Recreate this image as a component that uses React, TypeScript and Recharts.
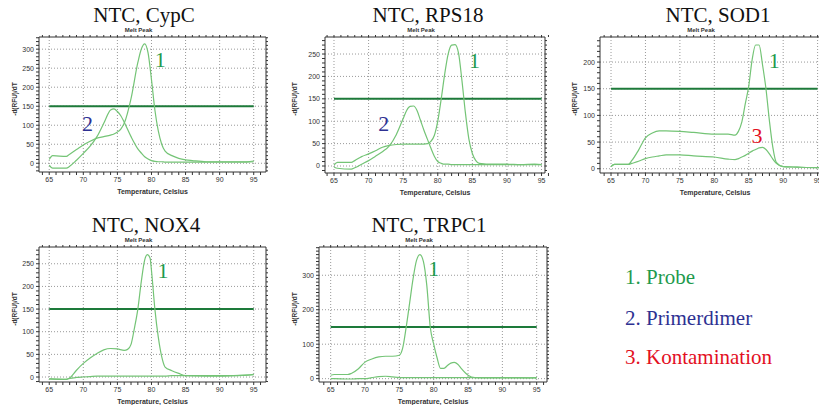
import React from 'react';
import {
  LineChart,
  Line,
  XAxis,
  YAxis,
  CartesianGrid,
  ReferenceLine,
  ReferenceDot
} from 'recharts';

// CypC
const cypcTemps = [65, 65.5, 67.5, 68, 69, 70, 71, 72, 73, 74, 74.5, 75, 75.5, 76, 77, 78, 78.5, 79, 79.5, 80, 80.5, 81, 81.5, 82, 83, 84, 85, 86, 88, 90, 92, 94, 95];
const cypcProbe = [10, 20, 18, 24, 36, 48, 58, 66, 70, 74, 77, 82, 90, 105, 170, 265, 300, 314, 290, 220, 140, 85, 50, 32, 20, 13, 9, 7, 4, 4, 4, 4, 6];
const cypcDimer = [-5, -13, -13, -8, 8, 26, 45, 70, 105, 140, 143, 136, 125, 108, 70, 38, 27, 17, 11, 7, 5, 4, 4, 3, 3, 3, 3, 3, 3, 3, 3, 3, 4];

// RPS18
const rpsTemps = [65, 65.5, 67.5, 68, 69, 70, 71, 72, 73, 74, 75, 75.5, 76, 76.5, 77, 77.5, 78, 78.5, 79, 79.5, 80, 80.5, 81, 81.5, 82, 82.5, 83, 83.5, 84, 84.5, 85, 85.5, 86, 88, 90, 92, 94, 95];
const rpsProbe = [2, 8, 8, 12, 21, 27, 34, 42, 46, 48, 49, 49, 49, 49, 49, 49, 49, 50, 55, 68, 100, 150, 205, 250, 270, 271, 252, 190, 118, 60, 28, 12, 6, 4, 4, 3, 4, 3];
const rpsDimer = [-2, -5, -7, -4, 4, 12, 22, 32, 45, 70, 106, 124, 133, 134, 124, 102, 80, 60, 40, 22, 10, 6, 4, 4, 3, 3, 3, 3, 3, 3, 3, 3, 3, 3, 3, 3, 3, 3];

// SOD1
const sodTemps = [65, 65.5, 67.5, 68, 69, 70, 71, 72, 73, 75, 77, 80, 82, 83, 83.5, 84, 84.5, 85, 85.5, 86, 86.5, 87, 87.5, 88, 88.5, 89, 90, 92, 95, 96];
const sodProbe = [4, 8, 8, 15, 35, 58, 67, 71, 71, 70, 68, 65, 65, 63, 70, 88, 122, 155, 205, 232, 232, 195, 150, 90, 40, 12, 4, 3, 2, 2];
const sodContam = [4, 8, 8, 10, 14, 19, 22, 24, 26, 26, 24, 22, 18, 17, 19, 22, 25, 29, 33, 36, 39, 40, 36, 28, 18, 10, 4, 3, 2, 2];

// NOX4
const noxTemps = [65, 67.5, 68, 69, 70, 71, 72, 73, 74, 75, 76, 76.5, 77, 77.5, 78, 78.5, 79, 79.4, 79.8, 80, 80.5, 81, 81.5, 82, 83, 84, 85, 88, 90, 92, 94, 95];
const noxProbe = [-4, -5, -2, 15, 30, 42, 52, 60, 63, 62, 59, 61, 72, 108, 150, 210, 258, 270, 262, 235, 150, 88, 45, 22, 14, 8, 3, 2, 2, 3, 4, 6];
const noxBase = [-4, -5, -3, -1, 0, 1, 2, 2, 2, 2, 2, 2, 2, 2, 2, 2, 2, 2, 2, 2, 2, 2, 2, 2, 3, 3, 3, 3, 3, 3, 4, 5];

// TRPC1
const trpTemps = [65, 65.5, 67.5, 68, 69, 70, 71, 72, 73, 74, 75, 75.5, 76, 76.5, 77, 77.5, 78, 78.5, 79, 79.5, 80, 80.5, 81, 81.5, 82, 82.5, 83, 83.5, 84, 85, 86, 88, 90, 92, 95];
const trpProbe = [10, 12, 12, 15, 28, 48, 57, 63, 65, 65, 68, 90, 150, 220, 290, 343, 360, 340, 270, 150, 100, 60, 30, 30, 38, 45, 47, 42, 30, 10, 3, 2, 2, 2, 3];
const trpBase = [0, 0, -1, -1, 0, 0, 3, 6, 7, 5, 3, 3, 3, 3, 3, 3, 3, 3, 3, 3, 3, 3, 3, 3, 3, 3, 3, 3, 3, 3, 3, 3, 3, 3, 2];

const xTicks = [65, 70, 75, 80, 85, 90, 95];
const threshold = 150;
const thresholdRange = [65, 95];

const legendItems = [
  { text: '1. Probe', color: '#1f9a4e' },
  { text: '2. Primerdimer', color: '#2e3192' },
  { text: '3. Kontamination', color: '#e3101f' }
];

const NOTE_COLORS: Record<string, string> = { '1': '#1f9a4e', '2': '#2e3192', '3': '#e3101f' };

const range = (a: number, b: number, step: number) => {
  const out: number[] = [];
  for (let v = a; v <= b + 1e-9; v += step) out.push(Math.round(v * 100) / 100);
  return out;
};

const CURVE = '#74c476';
const SERIF = 'Liberation Serif';
const SANS = 'Liberation Sans';

interface Note { x: number; y: number; text: string }

interface MeltProps {
  left: number;
  top: number;
  title: string;
  titleX: number;
  titleY: number;
  temps: number[];
  a: number[];
  b: number[];
  xDomain: [number, number];
  yDomain: [number, number];
  yTicks: number[];
  box: [number, number, number, number]; // plot box: left, right, top, bottom (local px)
  notes: Note[];
}

const W = 280;
const H = 205;

// tick that only writes a label for the major values
const makeTick = (labels: number[], side: 'bottom' | 'left') => (p: any) => {
  const v = p.payload.value;
  if (!labels.includes(v)) return <g />;
  return (
    <text
      x={p.x}
      y={p.y}
      dy={side === 'bottom' ? '0.71em' : '0.355em'}
      textAnchor={side === 'bottom' ? 'middle' : 'end'}
      fontSize={7}
      fill="#333"
      fontFamily={SANS}
    >
      {v}
    </text>
  );
};

const MeltChart: React.FC<MeltProps> = ({ left, top, title, titleX, titleY, temps, a, b, xDomain, yDomain, yTicks, box, notes }) => {
  const data = temps.map((t, i) => ({ t, a: a[i], b: b[i] }));
  const [x0, x1, y0, y1] = box;
  // axes are 1px thick, so margins are the box minus that
  const margin = { left: x0 - 1, right: W - x1 - 1, top: y0 - 1, bottom: H - y1 - 1 };
  const boxMidX = (x0 + x1) / 2;
  const minorX = range(64, 96, 1);
  const minorY = range(Math.ceil(yDomain[0] / 10) * 10, yDomain[1], 10);
  const axisStroke = '#333';
  const empty = () => <g />;

  return (
    <div style={{ position: 'absolute', left, top, width: W, height: H }}>
      <div style={{ position: 'absolute', left: titleX, top: titleY, transform: 'translate(-50%, -50%)', fontFamily: SERIF, fontSize: 21, whiteSpace: 'nowrap', color: '#111' }}>
        {title}
      </div>
      <div style={{ position: 'absolute', left: boxMidX - 14, top: y0 - 7, transform: 'translate(-50%, -50%)', fontFamily: SANS, fontSize: 6, fontWeight: 700, color: '#333', whiteSpace: 'nowrap' }}>
        Melt Peak
      </div>
      <div style={{ position: 'absolute', left: boxMidX, top: y1 + 19, transform: 'translate(-50%, -50%)', fontFamily: SANS, fontSize: 7, fontWeight: 700, color: '#333', whiteSpace: 'nowrap' }}>
        Temperature, Celsius
      </div>
      <div style={{ position: 'absolute', left: 14, top: (y0 + y1) / 2 - 6, transform: 'translate(-50%, -50%) rotate(-90deg)', fontFamily: SANS, fontSize: 6.5, fontWeight: 700, color: '#333', whiteSpace: 'nowrap' }}>
        -d(RFU)/dT
      </div>
      <div style={{ position: 'absolute', left: 0, top: 0 }}>
        <LineChart width={W} height={H} data={data} margin={margin}>
          <CartesianGrid
            stroke="#999"
            strokeDasharray="1 2"
            xAxisId="main"
            yAxisId="main"
            verticalValues={xTicks}
            horizontalValues={yTicks}
          />
          <XAxis
            xAxisId="main"
            dataKey="t"
            type="number"
            domain={xDomain}
            ticks={minorX}
            interval={0}
            allowDataOverflow
            height={1}
            tickSize={3}
            tickMargin={2}
            tick={makeTick(xTicks, 'bottom')}
            axisLine={{ stroke: axisStroke }}
            tickLine={{ stroke: axisStroke }}
          />
          <XAxis
            xAxisId="minor"
            orientation="top"
            dataKey="t"
            type="number"
            domain={xDomain}
            ticks={minorX}
            interval={0}
            allowDataOverflow
            height={1}
            tickSize={2}
            tick={empty}
            axisLine={{ stroke: axisStroke }}
            tickLine={{ stroke: axisStroke }}
          />
          <YAxis
            yAxisId="main"
            type="number"
            domain={yDomain}
            ticks={minorY}
            interval={0}
            allowDataOverflow
            width={1}
            tickSize={3}
            tickMargin={2}
            tick={makeTick(yTicks, 'left')}
            axisLine={{ stroke: axisStroke }}
            tickLine={{ stroke: axisStroke }}
          />
          <YAxis
            yAxisId="minor"
            orientation="right"
            type="number"
            domain={yDomain}
            ticks={minorY}
            interval={0}
            allowDataOverflow
            width={1}
            tickSize={2}
            tick={empty}
            axisLine={{ stroke: axisStroke }}
            tickLine={{ stroke: axisStroke }}
          />
          <ReferenceLine
            xAxisId="main"
            yAxisId="main"
            segment={[{ x: thresholdRange[0], y: threshold }, { x: thresholdRange[1], y: threshold }]}
            stroke="#1d7a3a"
            strokeWidth={2}
          />
          <Line xAxisId="main" yAxisId="main" type="monotone" dataKey="b" stroke={CURVE} strokeWidth={1.2} dot={false} isAnimationActive={false} />
          <Line xAxisId="main" yAxisId="main" type="monotone" dataKey="a" stroke={CURVE} strokeWidth={1.2} dot={false} isAnimationActive={false} />
          {notes.map((n, i) => (
            <ReferenceDot
              key={i}
              xAxisId="main"
              yAxisId="main"
              x={n.x}
              y={n.y}
              r={0}
              fill="none"
              stroke="none"
              label={{ value: n.text, position: 'center', fill: NOTE_COLORS[n.text], fontSize: 22, fontFamily: SERIF }}
            />
          ))}
        </LineChart>
      </div>
    </div>
  );
};

export default function App() {
  return (
    <div style={{ position: 'absolute', left: 0, top: 0, width: 819, height: 405, overflow: 'hidden', background: '#fff' }}>
      <MeltChart
        left={0} top={0} title="NTC, CypC" titleX={144} titleY={15}
        temps={cypcTemps} a={cypcProbe} b={cypcDimer}
        xDomain={[63.5, 96.8]} yDomain={[-23, 332]} yTicks={[0, 50, 100, 150, 200, 250, 300]}
        box={[39, 266, 37, 172]}
        notes={[{ x: 81.3, y: 273, text: '1' }, { x: 70.6, y: 106, text: '2' }]}
      />
      <MeltChart
        left={280} top={0} title="NTC, RPS18" titleX={148} titleY={15}
        temps={rpsTemps} a={rpsProbe} b={rpsDimer}
        xDomain={[63.7, 95.5]} yDomain={[-15.6, 288]} yTicks={[0, 50, 100, 150, 200, 250]}
        box={[45, 265, 37, 173]}
        notes={[{ x: 85.3, y: 237, text: '1' }, { x: 72.2, y: 95, text: '2' }]}
      />
      <MeltChart
        left={560} top={0} title="NTC, SOD1" titleX={158} titleY={15}
        temps={sodTemps} a={sodProbe} b={sodContam}
        xDomain={[63.4, 96.8]} yDomain={[-8, 247]} yTicks={[0, 50, 100, 150, 200]}
        box={[40, 270, 37, 173]}
        notes={[{ x: 88.7, y: 204, text: '1' }, { x: 86.2, y: 63, text: '3' }]}
      />
      <MeltChart
        left={0} top={200} title="NTC, NOX4" titleX={146} titleY={25}
        temps={noxTemps} a={noxProbe} b={noxBase}
        xDomain={[63.5, 96.8]} yDomain={[-11, 287]} yTicks={[0, 50, 100, 150, 200, 250]}
        box={[39, 266, 47, 182]}
        notes={[{ x: 81.7, y: 235, text: '1' }]}
      />
      <MeltChart
        left={280} top={200} title="NTC, TRPC1" titleX={149} titleY={25}
        temps={trpTemps} a={trpProbe} b={trpBase}
        xDomain={[63.3, 96.5]} yDomain={[-9.7, 382]} yTicks={[0, 100, 200, 300]}
        box={[39, 267, 47, 182]}
        notes={[{ x: 80, y: 320, text: '1' }]}
      />
      {legendItems.map((item, i) => (
        <div
          key={item.text}
          style={{ position: 'absolute', left: 625, top: [277, 318, 357][i], transform: 'translateY(-50%)', fontFamily: SERIF, fontSize: 21, color: item.color, whiteSpace: 'nowrap' }}
        >
          {item.text}
        </div>
      ))}
    </div>
  );
}
